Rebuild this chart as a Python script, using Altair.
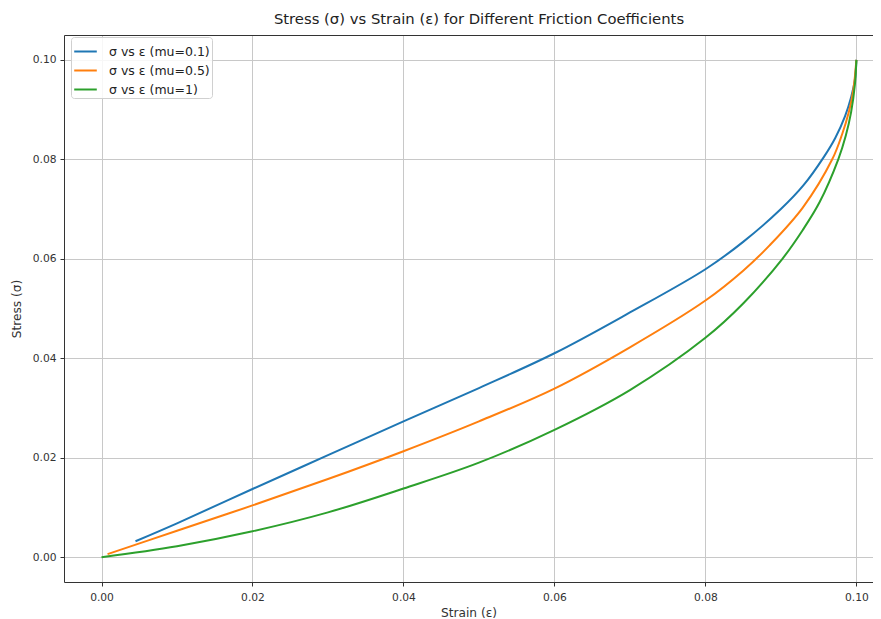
import altair as alt
import pandas as pd

series_labels = ["σ vs ε (mu=0.1)", "σ vs ε (mu=0.5)", "σ vs ε (mu=1)"]
series_colors = ["#1f77b4", "#ff7f0e", "#2ca02c"]

strain_mu01 = [0.0045, 0.01, 0.02, 0.03, 0.04, 0.05, 0.06, 0.07, 0.08, 0.085, 0.09, 0.093, 0.0957, 0.0972, 0.0985, 0.0993, 0.0998, 0.1]
stress_mu01 = [0.0032, 0.0068, 0.0137, 0.0205, 0.0273, 0.0340, 0.0410, 0.0492, 0.0579, 0.0634, 0.0700, 0.0748, 0.0805, 0.0843, 0.0887, 0.0925, 0.0960, 0.1000]

strain_mu05 = [0.0008, 0.01, 0.02, 0.03, 0.04, 0.05, 0.06, 0.07, 0.08, 0.085, 0.0885, 0.0929, 0.0968, 0.0981, 0.0990, 0.0996, 0.1]
stress_mu05 = [0.0006, 0.0053, 0.0104, 0.0157, 0.0213, 0.0273, 0.0339, 0.0422, 0.0516, 0.0576, 0.0627, 0.0703, 0.0800, 0.0850, 0.0895, 0.0940, 0.1000]

strain_mu1 = [0.0, 0.01, 0.02, 0.03, 0.04, 0.05, 0.06, 0.07, 0.08, 0.085, 0.0902, 0.0929, 0.0951, 0.0976, 0.0986, 0.0993, 0.0998, 0.1]
stress_mu1 = [0.0, 0.0022, 0.0052, 0.0090, 0.0138, 0.0190, 0.0256, 0.0336, 0.0441, 0.0510, 0.0600, 0.0658, 0.0713, 0.0800, 0.0848, 0.0895, 0.0950, 0.1000]

tick_values = [0.0, 0.02, 0.04, 0.06, 0.08, 0.10]

rows = []
for lab, xs, ys in zip(series_labels,
                       [strain_mu01, strain_mu05, strain_mu1],
                       [stress_mu01, stress_mu05, stress_mu1]):
    for x, y in zip(xs, ys):
        rows.append({"series": lab, "strain": x, "stress": y})
df = pd.DataFrame(rows)

FONT = "DejaVu Sans"
SPINE = "#333333"

x_scale = alt.Scale(domain=[-0.00497, 0.1022], nice=False, zero=False)
y_scale = alt.Scale(domain=[-0.005, 0.105], nice=False, zero=False)

y_enc = alt.Y("stress:Q", scale=y_scale,
              axis=alt.Axis(values=tick_values, format=".2f", title="Stress (σ)",
                            titlePadding=9, labelPadding=4, domain=True, domainColor=SPINE))

base = alt.Chart(df)

lines = base.mark_line(strokeWidth=2, interpolate="catmull-rom", clip=True).encode(
    x=alt.X("strain:Q", scale=x_scale,
            axis=alt.Axis(values=tick_values, format=".2f", title="Strain (ε)",
                          titlePadding=5, labelPadding=6, domain=True, domainColor=SPINE)),
    y=y_enc,
    color=alt.Color("series:N",
                    scale=alt.Scale(domain=series_labels, range=series_colors),
                    legend=alt.Legend(title=None, orient="none", legendX=7, legendY=2,
                                      symbolType="stroke", symbolStrokeWidth=2,
                                      symbolSize=510, labelFontSize=12.5, labelFont=FONT,
                                      labelColor="#222", labelOffset=11, rowPadding=0,
                                      padding=2, strokeColor="#d0d0d0",
                                      fillColor="rgba(255,255,255,0.85)",
                                      cornerRadius=3)),
    order=alt.Order("strain:Q"),
)

top_spine = base.mark_line(opacity=0).encode(
    x=alt.X("strain:Q", scale=x_scale,
            axis=alt.Axis(orient="top", labels=False, ticks=False, grid=False,
                          title=None, domain=True, domainColor=SPINE)),
    y=y_enc,
    detail="series:N",
)

chart = alt.layer(lines, top_spine).resolve_axis(x="independent").properties(
    width=809, height=547,
    title=alt.TitleParams("Stress (σ) vs Strain (ε) for Different Friction Coefficients",
                          font=FONT, fontSize=14.8, fontWeight="normal", color="#222",
                          offset=8, dx=10.5),
    autosize="none",
    padding={"left": 56, "top": 27, "right": 0, "bottom": 40},
).configure_axis(
    labelFont=FONT, labelFontSize=10.7, labelColor="#333",
    titleFont=FONT, titleFontSize=12.2, titleColor="#333", titleFontWeight="normal",
    tickColor=SPINE, tickSize=4,
    gridColor="#c8c8c8", gridWidth=1,
).configure_view(stroke=None)

chart.save("out.html", embed_options={"renderer": "svg", "actions": False})
